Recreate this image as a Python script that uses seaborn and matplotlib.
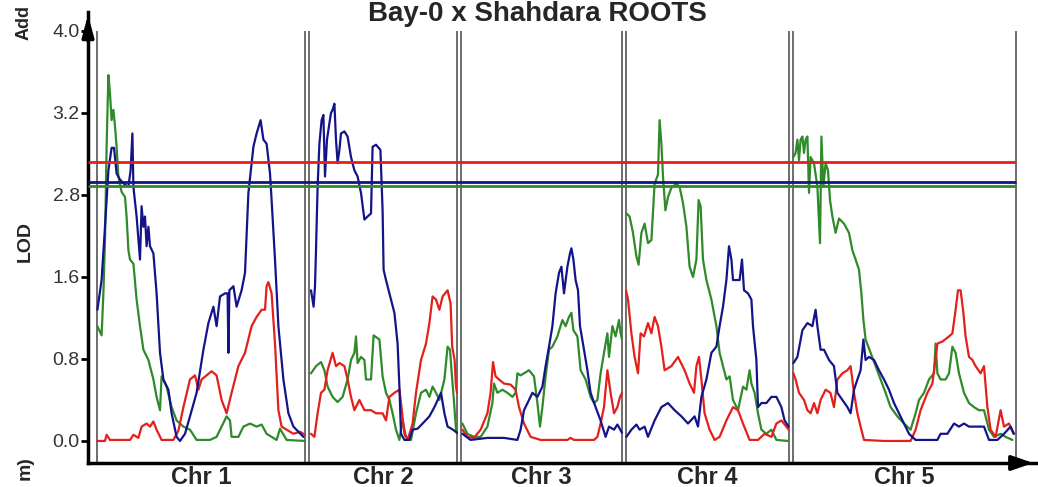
import numpy as np
import pandas as pd
import seaborn as sns
import matplotlib.pyplot as plt

# Chromosome layout (cM) and labels
chr_names = ["Chr 1", "Chr 2", "Chr 3", "Chr 4", "Chr 5"]
chr_lengths = [104, 74, 80.5, 81.5, 111.5]
chr_gap = 2

# LOD significance thresholds for each trait
thresholds = {"red": 2.72, "blue": 2.53, "green": 2.49}

y_ticks = [0.0, 0.8, 1.6, 2.4, 3.2, 4.0]
y_tick_labels = ["0.0", "0.8", "1.6", "2.8", "3.2", "4.0"]

# LOD profiles, (cM within chromosome, LOD)
green_chr1 = [(0.2, 1.12), (2.3, 1.03), (3.2, 1.44), (4.0, 1.96), (4.8, 2.87), (5.7, 3.57), (6.5, 3.39),
              (7.3, 3.13), (8.2, 3.23), (9.0, 3.07), (9.8, 2.87), (10.7, 2.58), (12.3, 2.43), (14.0, 2.38),
              (14.8, 2.19), (15.7, 1.86), (16.5, 1.77), (18.2, 1.73), (19.8, 1.38), (21.5, 1.12), (23.2, 0.89),
              (25.7, 0.79), (28.2, 0.60), (29.8, 0.43), (31.5, 0.30), (32.3, 0.63), (34.8, 0.53), (37.3, 0.33),
              (39.8, 0.20), (43.2, 0.14), (46.5, 0.11), (49.8, 0.01), (56.5, 0.01), (59.8, 0.04), (62.3, 0.14),
              (64.8, 0.24), (66.5, 0.20), (67.3, 0.04), (70.7, 0.04), (73.2, 0.14), (76.5, 0.17), (79.8, 0.14),
              (82.3, 0.16), (84.8, 0.07), (89.8, 0.01), (91.5, 0.12), (94.8, 0.01), (104.0, 0.0)]
blue_chr1 = [(0.2, 1.28), (2.3, 1.57), (4.0, 2.09), (5.7, 2.64), (7.3, 2.86), (8.5, 2.86), (9.8, 2.61),
             (11.5, 2.55), (14.0, 2.50), (15.7, 2.48), (16.8, 2.64), (17.7, 3.0), (18.2, 2.48), (19.8, 2.19),
             (21.5, 1.77), (22.3, 2.29), (23.2, 2.09), (24.0, 2.19), (24.8, 1.90), (25.7, 2.09), (26.5, 1.90),
             (28.2, 1.83), (29.8, 1.44), (31.5, 0.86), (33.2, 0.60), (35.7, 0.50), (37.3, 0.27), (39.8, 0.04),
             (41.5, 0.0), (44.0, 0.07), (46.5, 0.24), (49.8, 0.47), (53.2, 0.89), (55.7, 1.15), (58.2, 1.31),
             (59.8, 1.12), (61.5, 1.41), (64.0, 1.44), (65.3, 1.44), (65.7, 0.86), (66.2, 1.47), (68.2, 1.51),
             (69.8, 1.31), (72.3, 1.47), (74.0, 1.64), (75.7, 2.42), (78.2, 2.87), (79.8, 3.0), (81.8, 3.13),
             (83.2, 2.94), (84.8, 2.90), (86.5, 2.61), (87.3, 2.35), (89.0, 1.77), (90.7, 1.12), (93.2, 0.60),
             (95.7, 0.27), (98.2, 0.14), (103.2, 0.04)]
red_chr1 = [(0.2, 0.0), (4.0, 0.0), (4.8, 0.06), (6.5, 0.01), (16.5, 0.01), (18.2, 0.06), (20.7, 0.03),
            (22.3, 0.14), (24.8, 0.17), (26.5, 0.14), (28.2, 0.19), (29.8, 0.11), (32.3, 0.01), (38.2, 0.01),
            (40.7, 0.10), (43.2, 0.33), (46.5, 0.60), (49.0, 0.64), (50.7, 0.50), (52.3, 0.60), (54.8, 0.64),
            (57.3, 0.68), (59.8, 0.64), (62.3, 0.40), (64.8, 0.27), (67.3, 0.47), (70.7, 0.73), (74.0, 0.86),
            (77.3, 1.12), (79.8, 1.21), (82.3, 1.28), (84.0, 1.28), (84.8, 1.51), (85.7, 1.55), (87.3, 1.44),
            (89.0, 0.95), (90.7, 0.30), (92.3, 0.14), (94.8, 0.11), (98.2, 0.07), (101.5, 0.09), (104.0, 0.06)]

blue_chr2 = [(1.0, 1.47), (2.3, 1.31), (3.0, 1.51), (3.5, 1.86), (4.3, 2.48), (5.2, 2.90), (6.3, 3.13),
             (7.2, 3.18), (8.0, 2.58), (9.0, 2.94), (10.2, 3.10), (11.0, 3.20), (11.8, 3.23), (12.7, 3.29),
             (13.5, 2.94), (14.3, 2.71), (15.2, 2.84), (16.0, 3.0), (17.7, 3.02), (19.3, 2.97), (21.0, 2.77),
             (22.7, 2.64), (24.3, 2.58), (26.0, 2.42), (27.7, 2.16), (29.3, 2.19), (31.0, 2.22), (31.8, 2.87),
             (33.5, 2.89), (35.7, 2.84), (36.8, 2.25), (37.3, 1.67), (38.5, 1.57), (40.2, 1.44), (42.7, 1.25),
             (44.3, 0.95), (45.2, 0.53), (46.0, 0.07), (47.7, 0.01), (50.2, 0.01), (51.8, 0.11), (54.3, 0.12),
             (56.8, 0.17), (60.2, 0.24), (62.7, 0.33), (66.0, 0.47), (67.7, 0.27), (69.3, 0.14), (72.0, 0.11),
             (74.0, 0.08)]
green_chr2 = [(1.0, 0.66), (3.5, 0.73), (6.0, 0.77), (7.7, 0.69), (9.3, 0.53), (11.8, 0.43), (14.3, 0.38),
              (16.8, 0.43), (19.3, 0.60), (21.0, 0.79), (22.7, 0.86), (23.5, 1.02), (24.3, 0.76), (26.0, 0.82),
              (27.7, 0.79), (28.5, 0.60), (31.0, 0.60), (32.3, 1.03), (35.2, 0.99), (36.8, 0.63), (38.5, 0.47),
              (40.2, 0.40), (41.8, 0.27), (43.5, 0.11), (45.2, 0.01), (46.8, 0.20), (48.5, 0.04), (51.0, 0.01),
              (53.5, 0.27), (56.0, 0.47), (58.5, 0.50), (60.2, 0.43), (61.8, 0.53), (63.5, 0.47), (65.2, 0.40),
              (67.7, 0.60), (69.3, 0.92), (70.5, 0.89), (71.5, 0.63), (72.7, 0.33), (73.5, 0.11), (74.0, 0.07)]
red_chr2 = [(1.0, 0.07), (2.7, 0.04), (4.3, 0.27), (6.0, 0.47), (7.7, 0.50), (9.3, 0.69), (11.8, 0.86),
            (13.5, 0.73), (15.2, 0.76), (17.7, 0.73), (19.3, 0.60), (21.0, 0.43), (22.7, 0.30), (25.2, 0.40),
            (27.7, 0.30), (31.0, 0.30), (33.5, 0.27), (36.8, 0.27), (38.5, 0.20), (40.2, 0.43), (42.7, 0.47),
            (45.2, 0.50), (46.0, 0.37), (47.7, 0.07), (49.3, 0.01), (51.8, 0.17), (53.5, 0.47), (56.0, 0.79),
            (58.5, 0.95), (60.2, 1.15), (61.8, 1.41), (63.5, 1.38), (65.2, 1.28), (66.8, 1.41), (69.3, 1.47),
            (70.8, 1.34), (71.6, 0.92), (72.8, 0.79), (73.5, 0.53), (74.0, 0.47)]

blue_chr3 = [(0.7, 0.07), (4.8, 0.01), (13.2, 0.03), (21.5, 0.03), (28.2, 0.01), (29.8, 0.11), (31.5, 0.30),
             (34.0, 0.40), (35.7, 0.47), (38.2, 0.43), (40.7, 0.53), (42.3, 0.73), (44.0, 0.92), (45.7, 1.12),
             (47.3, 1.44), (49.0, 1.64), (50.2, 1.70), (51.5, 1.44), (53.2, 1.70), (54.5, 1.83), (55.2, 1.88),
             (56.2, 1.77), (57.3, 1.57), (58.5, 1.47), (59.5, 1.12), (61.5, 0.89), (63.2, 0.69), (64.8, 0.47),
             (67.3, 0.33), (69.8, 0.20), (72.3, 0.04), (74.0, 0.14), (76.5, 0.11), (78.2, 0.16), (80.5, 0.08)]
green_chr3 = [(0.7, 0.17), (3.2, 0.07), (6.5, 0.04), (9.8, 0.04), (13.2, 0.14), (15.7, 0.37), (16.5, 0.56),
              (18.2, 0.47), (20.7, 0.50), (23.2, 0.47), (25.7, 0.43), (27.3, 0.47), (28.2, 0.66), (29.8, 0.64),
              (31.5, 0.66), (34.0, 0.69), (36.5, 0.63), (38.2, 0.37), (39.5, 0.14), (40.7, 0.33), (42.3, 0.63),
              (44.0, 0.89), (45.7, 0.92), (48.2, 1.02), (50.7, 1.18), (52.3, 1.12), (54.0, 1.21), (55.2, 1.25),
              (56.2, 1.08), (58.2, 1.02), (59.8, 0.69), (62.3, 0.60), (64.8, 0.43), (66.5, 0.37), (68.2, 0.40),
              (69.8, 0.66), (71.5, 0.86), (73.2, 1.05), (74.0, 0.82), (75.7, 1.12), (77.3, 1.02), (79.0, 1.18),
              (79.8, 1.05), (80.5, 0.99)]
red_chr3 = [(0.7, 0.11), (3.2, 0.04), (6.5, 0.03), (9.8, 0.11), (13.2, 0.27), (14.8, 0.47), (16.0, 0.77),
            (17.3, 0.63), (19.0, 0.60), (21.5, 0.56), (24.8, 0.55), (27.3, 0.50), (29.0, 0.33), (31.5, 0.17),
            (34.8, 0.04), (39.8, 0.01), (53.2, 0.01), (54.8, 0.03), (56.5, 0.01), (66.5, 0.01), (68.2, 0.04),
            (69.8, 0.17), (71.5, 0.33), (73.2, 0.69), (74.8, 0.47), (76.5, 0.27), (78.2, 0.33), (79.5, 0.43),
            (80.5, 0.47)]

green_chr4 = [(0.2, 2.22), (1.8, 2.19), (3.5, 2.03), (5.2, 1.80), (6.3, 1.72), (7.7, 2.03), (9.3, 2.12),
              (11.0, 1.93), (12.7, 1.96), (14.3, 2.51), (16.0, 2.60), (16.8, 3.13), (17.7, 2.90), (18.5, 2.58),
              (19.7, 2.25), (21.0, 2.38), (22.7, 2.47), (25.2, 2.51), (26.8, 2.48), (28.5, 2.32), (30.2, 2.09),
              (31.8, 1.70), (33.5, 1.60), (35.2, 1.77), (36.3, 2.35), (37.3, 2.29), (38.5, 1.77), (40.2, 1.57),
              (42.7, 1.38), (45.2, 1.12), (46.8, 0.86), (48.5, 0.73), (50.2, 0.60), (51.8, 0.63), (53.5, 0.40),
              (56.0, 0.30), (58.5, 0.53), (60.2, 0.50), (61.8, 0.69), (62.7, 0.56), (64.3, 0.47), (66.0, 0.27),
              (67.7, 0.11), (70.2, 0.07), (72.7, 0.11), (75.2, 0.01), (81.0, 0.0)]
blue_chr4 = [(0.2, 0.04), (2.7, 0.11), (5.2, 0.16), (6.8, 0.11), (9.3, 0.14), (11.0, 0.04), (14.3, 0.20),
             (17.7, 0.33), (21.0, 0.37), (24.3, 0.30), (27.7, 0.24), (31.0, 0.17), (34.3, 0.24), (36.0, 0.14),
             (37.7, 0.43), (40.2, 0.60), (42.7, 0.86), (45.2, 0.92), (46.8, 1.12), (48.5, 1.31), (50.2, 1.57),
             (51.5, 1.90), (52.7, 1.77), (53.5, 1.57), (55.2, 1.57), (56.8, 1.57), (58.0, 1.77), (59.0, 1.47),
             (61.0, 1.44), (62.7, 1.38), (63.5, 1.12), (65.2, 0.79), (66.0, 0.33), (67.7, 0.37), (70.2, 0.37),
             (72.7, 0.43), (75.2, 0.43), (77.7, 0.33), (79.3, 0.20), (81.3, 0.14)]
red_chr4 = [(0.0, 1.47), (1.0, 1.38), (2.7, 1.05), (4.3, 0.82), (6.0, 0.66), (7.3, 1.05), (9.0, 1.02),
            (11.0, 1.15), (12.7, 1.05), (14.3, 1.21), (16.0, 1.12), (17.7, 0.92), (19.3, 0.69), (22.7, 0.73),
            (26.0, 0.82), (29.3, 0.69), (31.8, 0.56), (34.0, 0.47), (35.2, 0.73), (36.5, 0.82), (37.7, 0.60),
            (39.3, 0.27), (41.8, 0.11), (44.3, 0.01), (46.8, 0.04), (50.2, 0.20), (53.5, 0.33), (56.0, 0.30),
            (58.5, 0.17), (61.8, 0.01), (66.0, 0.01), (69.3, 0.07), (72.7, 0.04), (75.2, 0.17), (77.7, 0.20),
            (80.2, 0.14), (81.3, 0.11)]

green_chr5 = [(0.2, 2.77), (1.3, 2.81), (2.2, 2.94), (3.0, 2.74), (3.8, 2.94), (4.7, 2.97), (5.5, 2.81),
              (6.3, 2.94), (7.2, 2.97), (8.0, 2.42), (8.8, 2.77), (10.5, 2.71), (12.2, 2.48), (13.5, 1.93),
              (14.2, 2.97), (15.2, 2.48), (16.3, 2.71), (17.5, 2.64), (18.5, 2.35), (19.7, 2.19), (21.3, 2.03),
              (23.0, 2.17), (25.5, 2.12), (28.0, 2.03), (29.7, 1.86), (31.3, 1.77), (33.0, 1.67), (34.2, 1.44),
              (35.2, 1.18), (36.3, 0.99), (38.8, 0.86), (41.3, 0.73), (43.8, 0.60), (46.3, 0.47), (48.8, 0.33),
              (52.2, 0.24), (55.5, 0.17), (58.8, 0.11), (61.3, 0.27), (63.0, 0.40), (65.5, 0.47), (68.0, 0.60),
              (70.5, 0.66), (71.3, 0.95), (72.2, 0.66), (73.8, 0.60), (76.3, 0.60), (78.0, 0.66), (79.7, 0.92),
              (81.3, 0.86), (83.0, 0.66), (85.5, 0.47), (88.0, 0.37), (90.5, 0.33), (93.0, 0.30), (95.5, 0.30),
              (98.0, 0.11), (100.5, 0.04), (103.8, 0.07), (106.3, 0.04), (109.7, 0.01)]
blue_chr5 = [(0.2, 0.76), (2.2, 0.82), (4.7, 1.08), (7.2, 1.15), (9.7, 1.12), (11.3, 1.28), (12.2, 1.12),
             (13.8, 0.89), (15.5, 0.89), (18.0, 0.79), (20.5, 0.73), (22.2, 0.47), (24.7, 0.40), (27.2, 0.33),
             (28.8, 0.27), (30.5, 0.50), (32.2, 0.60), (33.8, 0.69), (35.2, 0.99), (36.3, 0.79), (38.0, 0.82),
             (40.5, 0.79), (43.0, 0.69), (45.5, 0.60), (48.0, 0.50), (50.5, 0.37), (53.0, 0.27), (55.5, 0.17),
             (58.0, 0.07), (61.3, 0.01), (72.2, 0.01), (73.8, 0.07), (77.2, 0.07), (80.5, 0.17), (83.0, 0.14),
             (85.5, 0.17), (88.0, 0.14), (95.5, 0.14), (98.0, 0.01), (102.2, 0.01), (105.5, 0.07), (108.8, 0.14),
             (110.5, 0.07)]
red_chr5 = [(0.2, 0.66), (1.3, 0.60), (3.0, 0.47), (5.5, 0.40), (7.2, 0.30), (8.8, 0.27), (10.5, 0.37),
            (12.2, 0.27), (13.8, 0.40), (16.3, 0.50), (18.7, 0.47), (20.5, 0.33), (22.2, 0.60), (24.7, 0.66),
            (27.2, 0.69), (28.8, 0.73), (30.5, 0.47), (32.2, 0.27), (33.8, 0.14), (35.5, 0.01), (45.5, 0.0),
            (58.8, 0.0), (61.3, 0.11), (63.8, 0.30), (67.2, 0.47), (69.7, 0.56), (72.2, 0.95), (74.7, 0.97),
            (78.0, 1.02), (79.7, 1.05), (81.3, 1.28), (82.5, 1.47), (83.8, 1.47), (85.2, 1.25), (86.3, 1.02),
            (88.0, 0.82), (89.7, 0.79), (91.3, 0.73), (93.8, 0.66), (95.5, 0.73), (97.2, 0.33), (98.8, 0.11),
            (101.3, 0.04), (103.8, 0.30), (105.5, 0.14), (108.0, 0.17), (110.2, 0.07)]

profiles = {
    "green": [green_chr1, green_chr2, green_chr3, green_chr4, green_chr5],
    "red": [red_chr1, red_chr2, red_chr3, red_chr4, red_chr5],
    "blue": [blue_chr1, blue_chr2, blue_chr3, blue_chr4, blue_chr5],
}
palette = {"green": "#2f8a2a", "red": "#e3201b", "blue": "#14148a"}

# Start of every chromosome on the shared x axis
offsets = np.concatenate([[0], np.cumsum(np.array(chr_lengths) + chr_gap)[:-1]])
ends = offsets + np.array(chr_lengths)

rows = []
for trait, chroms in profiles.items():
    for i, pts in enumerate(chroms):
        for cm, lod in pts:
            rows.append({"pos": offsets[i] + cm, "lod": lod, "trait": trait, "chrom": i})
df = pd.DataFrame(rows)

sns.set_style("white")
plt.rcParams["font.family"] = ["Liberation Sans", "DejaVu Sans"]

W, H = 1038, 487
fig = plt.figure(figsize=(W / 100, H / 100), dpi=100)
ax = fig.add_axes([88 / W, 24 / H, 948 / W, 451 / H])

x_left, x_right = -4.5, 469.5
y_bottom, y_top = -0.215, 4.185

sns.lineplot(data=df, x="pos", y="lod", hue="trait", units="chrom", estimator=None, sort=False,
             palette=palette, hue_order=["green", "red", "blue"], lw=1.6, legend=False, ax=ax, zorder=2)

# Chromosome borders
for i in range(len(chr_names)):
    ax.vlines([offsets[i], ends[i]], y_bottom, 4.0, color="#555555", lw=1.2, zorder=1)

# Threshold lines
for trait in ["red", "blue", "green"]:
    ax.hlines(thresholds[trait], x_left, ends[-1], color=palette[trait], lw=2, zorder=3)

ax.set_xlim(x_left, x_right)
ax.set_ylim(y_bottom, y_top)

ax.set_yticks(y_ticks, y_tick_labels)
ax.tick_params(axis="y", length=5, width=2, color="black", labelsize=14, labelcolor="#333333", pad=1, left=True)
ax.set_xticks((offsets + ends) / 2, chr_names)
ax.tick_params(axis="x", length=0, labelsize=17, pad=2)
for lbl in ax.get_xticklabels():
    lbl.set_fontweight("bold")
ax.set_xlabel("")
ax.set_ylabel("")

sns.despine(ax=ax)
for side in ["left", "bottom"]:
    ax.spines[side].set_linewidth(2.5)
    ax.spines[side].set_color("black")

# Axis arrows
ax.annotate("", xy=(0, 1.0), xytext=(0, 0.93), xycoords="axes fraction",
            arrowprops=dict(arrowstyle="-|>,head_length=1.3,head_width=0.35", color="black", lw=2.5),
            annotation_clip=False)
ax.annotate("", xy=(1.0, 0), xytext=(0.97, 0), xycoords="axes fraction",
            arrowprops=dict(arrowstyle="-|>,head_length=1.3,head_width=0.45", color="black", lw=2.5),
            annotation_clip=False)

fig.text(537 / W, 1 - 21 / H, "Bay-0 x Shahdara ROOTS", ha="center", va="baseline",
         fontsize=20, fontweight="bold")
fig.text(24 / W, 1 - 40 / H, "Add", rotation=90, ha="center", va="bottom", fontsize=13, fontweight="bold")
fig.text(25 / W, 1 - 242 / H, "LOD", rotation=90, ha="center", va="center", fontsize=14, fontweight="bold")
fig.text(25 / W, 1 - 456 / H, "m)", rotation=90, ha="center", va="top", fontsize=14, fontweight="bold")

fig.savefig("out.png", dpi=100)
